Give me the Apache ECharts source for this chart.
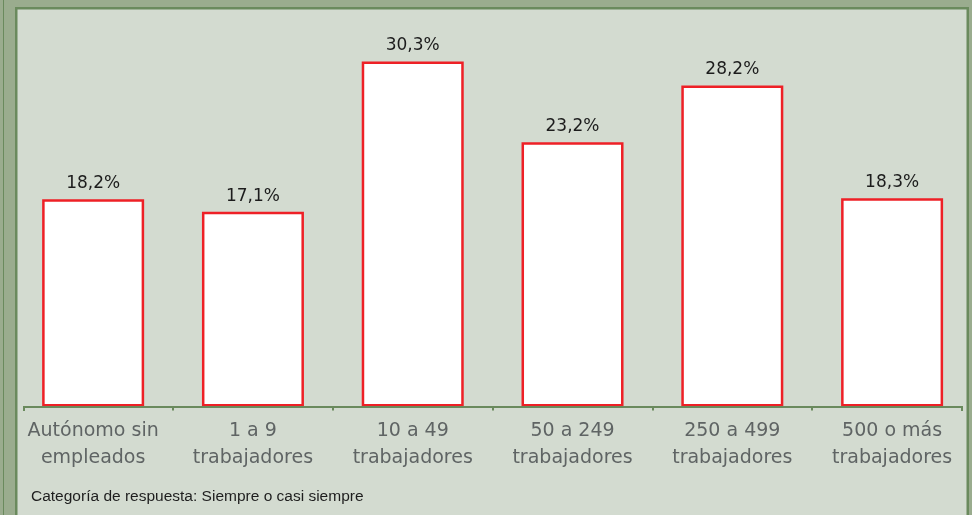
<!DOCTYPE html>
<html>
<head>
<meta charset="utf-8">
<style>
  html, body { margin: 0; padding: 0; background: #9aac8e; }
  #chart { width: 972px; height: 515px; }
</style>
<script src="https://cdn.jsdelivr.net/npm/echarts@6/dist/echarts.min.js"></script>
</head>
<body>
<div id="chart"></div>
<script>
// Company size groups and share of answers "Siempre o casi siempre"
const categories = [
  'Autónomo sin\nempleados',
  '1 a 9\ntrabajadores',
  '10 a 49\ntrabajadores',
  '50 a 249\ntrabajadores',
  '250 a 499\ntrabajadores',
  '500 o más\ntrabajadores'
];
const values = [18.2, 17.1, 30.3, 23.2, 28.2, 18.3];
const footnote = 'Categoría de respuesta: Siempre o casi siempre';

const frameLight = '#9aac8e';
const frameDark = '#6a8a5d';
const panel = '#d3dbd0';

const chart = echarts.init(document.getElementById('chart'), null, { renderer: 'canvas' });

chart.setOption({
  backgroundColor: frameLight,
  animation: false,
  grid: { left: 13.25, right: -4.25, top: 8, bottom: 108.5 },
  xAxis: {
    type: 'category',
    data: categories,
    axisLine: { show: false },
    axisTick: { show: true, length: 4, lineStyle: { color: frameDark, width: 2 } },
    axisLabel: {
      color: '#5f6464',
      fontFamily: 'DejaVu Sans',
      fontSize: 19,
      lineHeight: 27,
      margin: 11,
      interval: 0
    },
    z: 3
  },
  yAxis: {
    type: 'value',
    min: 0,
    max: 35,
    show: false
  },
  series: [{
    type: 'bar',
    data: values,
    barWidth: 102,
    itemStyle: { color: '#ffffff', borderColor: '#ee2026', borderWidth: 2.5 },
    label: {
      show: true,
      position: 'top',
      distance: 7,
      color: '#1c1c1c',
      fontFamily: 'DejaVu Sans',
      fontSize: 17,
      formatter: p => p.value.toFixed(1).replace('.', ',') + '%'
    },
    z: 2
  }],
  graphic: [
    // panel fill
    { type: 'rect', z: -10, silent: true,
      shape: { x: 16.25, y: 8.25, width: 951.5, height: 520 },
      style: { fill: panel } },
    // left and right bands of the outer frame
    { type: 'rect', z: 10, silent: true,
      shape: { x: 0, y: 0, width: 15, height: 515 },
      style: { fill: frameLight } },
    { type: 'rect', z: 10, silent: true,
      shape: { x: 969, y: 0, width: 3, height: 515 },
      style: { fill: frameLight } },
    { type: 'rect', z: 11, silent: true,
      shape: { x: 3, y: 0, width: 1, height: 515 },
      style: { fill: frameDark } },
    // dark edge around the panel
    { type: 'rect', z: 11, silent: true,
      shape: { x: 16.25, y: 8.25, width: 951.5, height: 520 },
      style: { fill: null, stroke: frameDark, lineWidth: 2.5 } },
    // base line with end ticks
    { type: 'polyline', z: 5, silent: true,
      shape: { points: [[24, 411], [24, 407], [962, 407], [962, 411]] },
      style: { stroke: frameDark, lineWidth: 2, fill: null } },
    { type: 'text', z: 5, silent: true, left: 31, top: 489,
      style: { text: footnote, fill: '#1e1e1e', font: '15.5px "Liberation Sans", Arial, sans-serif' } }
  ]
});
</script>
</body>
</html>
